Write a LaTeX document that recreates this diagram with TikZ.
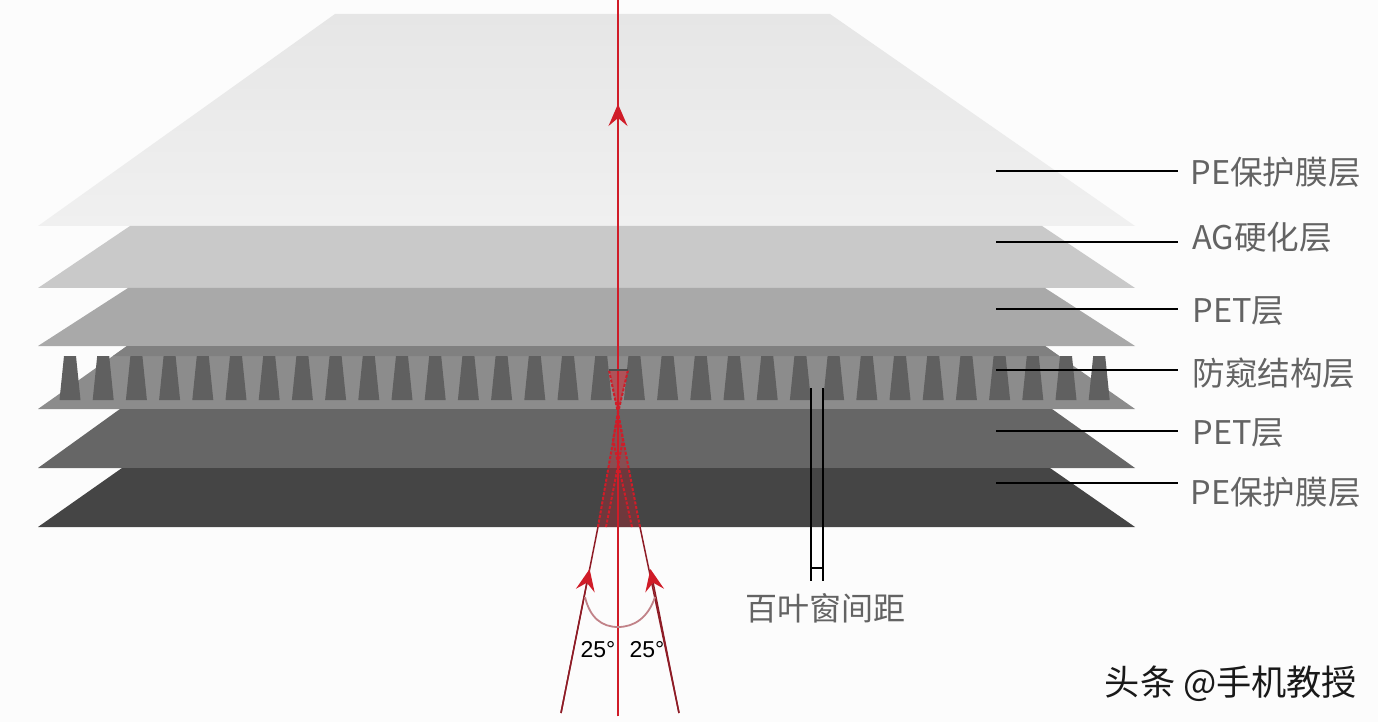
\documentclass[tikz,border=0pt]{standalone}
\usepackage{fontspec}
\usepackage{xcolor}
\setmainfont{Liberation Sans}
\newfontfamily\cjk{Noto Sans CJK SC}
\usetikzlibrary{arrows.meta,positioning}
\definecolor{layerAt}{HTML}{E6E6E6}
\definecolor{layerAb}{HTML}{F0F0F0}
\definecolor{layerB}{HTML}{C9C9C9}
\definecolor{layerC}{HTML}{A9A9A9}
\definecolor{layerD}{HTML}{8C8C8C}
\definecolor{layerE}{HTML}{666666}
\definecolor{layerF}{HTML}{454545}
\definecolor{slat}{HTML}{606060}
\definecolor{ray}{HTML}{D01C28}
\definecolor{raydark}{HTML}{8E1C26}
\definecolor{labelgrey}{HTML}{636363}

\begin{document}
\begin{tikzpicture}[x=0.5pt,y=-0.5pt,>={Stealth[length=11pt,width=9.5pt,inset=4pt]},
                    leader/.style={draw=black,line width=1pt},
                    layerlabel/.style={anchor=west,text=labelgrey,font=\cjk\fontsize{16.3}{18}\selectfont,inner sep=6pt},
                    rayline/.style={draw=ray,line width=0.8pt},
                    raylow/.style={draw=raydark,line width=0.75pt},
                    raydash/.style={draw=ray,line width=1pt,dash pattern=on 1.5pt off 0.8pt},
                    anglelabel/.style={text=black,font=\fontsize{11.5}{12}\selectfont,inner sep=0pt}]
  \useasboundingbox (0,0) rectangle (1378,722);
  \fill[white!99!black] (0,0) rectangle (1378,722);

  % film stack
  \shade[top color=layerAt,bottom color=layerAb] (335,14) -- (830,14) -- (1135,226) -- (38,226) -- cycle;
  \fill[layerB] (130,226) -- (1042,226) -- (1135,288) -- (38,288) -- cycle;
  \fill[layerC] (128,288) -- (1045,288) -- (1135,346) -- (38,346) -- cycle;
  \fill[layerD] (127,346) -- (1045,346) -- (1135,409) -- (38,409) -- cycle;
  \fill[black!50] (127,346) -- (1045,346) -- (1059,356) -- (113,356) -- cycle;
  \fill[layerE] (120,409) -- (1052,409) -- (1135,468) -- (38,468) -- cycle;
  \fill[layerF] (122,468) -- (1050,468) -- (1135,527) -- (38,527) -- cycle;

  % louver slats
  \foreach \i in {0,...,31}
    \fill[slat] ({70+33.2*\i-6},356) -- ({70+33.2*\i+6},356)
                -- ({70+33.2*\i+10.5},400) -- ({70+33.2*\i-10.5},400) -- cycle;

  % light cone inside the stack
  \fill[ray,opacity=0.3] (597,527) -- (618,415) -- (640,527) -- cycle;
  \fill[ray,opacity=0.5] (609,370) -- (628,370) -- (618,415) -- cycle;

  \coordinate (start) at (618,716);
  \coordinate (exit) at (618,0);
  \coordinate (tipC) at (618,104);
  \coordinate (rayL) at (561,713);
  \coordinate (rayR) at (679,713);
  \coordinate (tipL) at (589.6,569);
  \coordinate (tipR) at (650.4,569);
  \coordinate (baseL) at (598,527);
  \coordinate (baseR) at (640,527);
  \coordinate (cross) at (618,413);
  \coordinate (endL) at (628,370);
  \coordinate (endR) at (609,370);
  \coordinate (innerL) at (606,527);
  \coordinate (innerR) at (632,527);
  \coordinate (arcL) at (585,597);
  \coordinate (arcR) at (655,597);
  \coordinate (arcB) at (618,627);

  \draw[rayline] (start) -- (exit);
  \draw[raylow] (start) -- (618,527);
  \draw[rayline,->] (start) -- (tipC);
  \draw[raylow] (rayL) -- (baseL);
  \draw[raylow] (rayR) -- (baseR);
  \draw[draw=raydark,line width=0.75pt,-{Stealth[length=11pt,width=9.5pt,inset=4pt,color=ray]}] (rayL) -- (tipL);
  \draw[draw=raydark,line width=0.75pt,-{Stealth[length=11pt,width=9.5pt,inset=4pt,color=ray]}] (rayR) -- (tipR);
  \draw[raydash] (baseL) -- (cross) -- (endL);
  \draw[raydash] (baseR) -- (cross) -- (endR);
  \draw[raydash] (innerL) -- (623,440) -- (cross);
  \draw[raydash] (innerR) -- (613,440) -- (cross);
  \draw[draw=black!70,line width=0.8pt] (endR) -- (endL);
  \draw[draw=raydark!55,line width=0.9pt] (arcL) .. controls (590,618) and (602,627) .. (arcB)
                                                 .. controls (634,627) and (648,618) .. (arcR);

  % labels on the right
  \coordinate (pA) at (996,171);
  \coordinate (pB) at (996,242);
  \coordinate (pC) at (996,309);
  \coordinate (pD) at (996,370);
  \coordinate (pE) at (996,431);
  \coordinate (pF) at (996,483);
  \node[layerlabel] (lA) at (1178,172) {PE保护膜层};
  \node[layerlabel,inner xsep=7pt] (lB) at (1178,237) {AG硬化层};
  \node[layerlabel,inner xsep=7pt] (lC) at (1178,311) {PET层};
  \node[layerlabel,inner xsep=7pt] (lD) at (1178,373) {防窥结构层};
  \node[layerlabel,inner xsep=7pt] (lE) at (1178,433) {PET层};
  \node[layerlabel] (lF) at (1178,492) {PE保护膜层};
  \draw[leader] (pA) -- (lA.west |- pA);
  \draw[leader] (pB) -- (lB.west |- pB);
  \draw[leader] (pC) -- (lC.west |- pC);
  \draw[leader] (pD) -- (lD.west |- pD);
  \draw[leader] (pE) -- (lE.west |- pE);
  \draw[leader] (pF) -- (lF.west |- pF);

  % louver pitch mark
  \node[text=labelgrey,font=\cjk\fontsize{16}{18}\selectfont,inner sep=0pt] (pitch) at (825,608) {百叶窗间距};
  \coordinate (pitchLt) at (811,388);
  \coordinate (pitchRt) at (823,388);
  \coordinate (pitchLb) at (811,581);
  \coordinate (pitchRb) at (823,581);
  \coordinate (pitchLm) at (811,568);
  \coordinate (pitchRm) at (823,568);
  \draw[leader] (pitchLt) -- (pitchLb);
  \draw[leader] (pitchRt) -- (pitchRb);
  \draw[leader,line width=0.7pt] (pitchLm) -- (pitchRm);

  \node[anglelabel] (angL) at (598,650) {25°};
  \node[anglelabel] (angR) at (647,650) {25°};
  \node[text=black!90,font=\cjk\fontsize{17.6}{20}\selectfont,inner sep=0pt] (mark) at (1231,684) {头条 @手机教授};
\end{tikzpicture}
\end{document}
